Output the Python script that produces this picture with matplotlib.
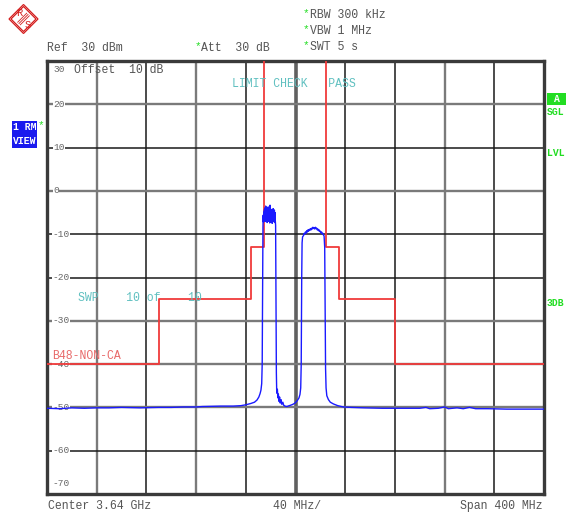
import matplotlib.pyplot as plt
from matplotlib.patches import Polygon, Rectangle

W, H = 574, 519

# spectrum trace, offset from center (MHz) / level (dBm)
freq_mhz = [
    -200, -190, -180, -170, -160, -150, -140, -125, -110, -100, -90, -80, -75,
    -60, -50, -44, -40, -36, -33, -31, -29.5, -28.5, -27.8, -27.2, -26.8,
    -26.6, -26.4, -26.2,
    -26.0, -25.75, -25.5, -25.25, -25.0, -24.75, -24.5, -24.25, -24.0, -23.75,
    -23.5, -23.25, -23.0, -22.75, -22.5, -22.25, -22.0, -21.75, -21.5, -21.25,
    -21.0, -20.75, -20.5, -20.25, -20.0, -19.75, -19.5, -19.25, -19.0, -18.75,
    -18.5, -18.25, -18.0, -17.75, -17.5, -17.25, -17.0, -16.75, -16.5, -16.25,
    -16.0, -15.8, -15.6, -15.4, -15.1, -14.6, -14.2, -13.8, -13.3, -12.8,
    -12.3, -11.7, -11.0, -10.2, -9.5, -8.5, -7, -5, -3, -1.5, 0, 1.5, 2.8,
    3.6, 4.2, 4.6, 4.8, 5.0, 5.3, 5.7, 6.5, 7.0, 7.5, 8.0, 8.5, 9.0, 9.5,
    10.0, 10.5, 11.0, 11.5, 12.0, 12.5, 13.0, 13.5, 14.0, 14.5, 15.0, 15.5,
    16.0, 16.5, 17.0, 17.5, 18.0, 18.5, 19.0, 19.5, 20.0, 20.5, 21.0, 21.5,
    22.0, 22.5, 23.0, 23.5, 23.7, 23.9, 24.2, 24.6, 25.2, 26.5, 28, 30.5, 34,
    38.5, 45, 55, 70, 85, 100, 105, 108, 115, 120, 123, 130, 135, 140, 145,
    155, 170, 185, 200,
]
level_dbm = [
    -50.2, -50.3, -50.1, -50.2, -50.1, -50.1, -50.0, -50.1, -50.0, -50.0,
    -49.9, -49.9, -49.8, -49.7, -49.7, -49.6, -49.4, -49.1, -48.8, -48.3,
    -47.6, -46.8, -46.0, -44.5, -40.0, -30.0, -18.0, -8.5,
    -5.6, -7.2, -4.9, -6.8, -4.3, -7.0, -3.9, -6.4, -3.5, -7.1,
    -3.8, -6.2, -4.0, -7.3, -4.1, -6.6, -3.7, -7.0, -4.4, -6.9,
    -4.0, -7.4, -3.3, -6.5, -4.2, -7.2, -4.8, -6.7, -4.3, -7.5,
    -4.5, -6.8, -4.1, -7.1, -4.7, -6.6, -4.4, -7.3, -5.0, -6.9,
    -8.0, -20.0, -33.0, -42.0, -46.7, -45.8, -47.8, -46.9, -48.6, -47.6,
    -49.0, -48.2, -49.3, -48.8, -49.5, -49.7, -49.8, -49.6, -49.4, -49.2,
    -48.9, -48.4, -47.8, -47.0, -45.5, -40.0, -30.0, -20.0, -12.0, -10.6,
    -10.3, -9.8, -10.0, -9.5, -9.8, -9.2, -9.5, -9.0, -9.3, -8.9, -9.1,
    -8.7, -9.0, -8.6, -8.8, -8.4, -8.7, -8.5, -8.8, -8.4, -8.7, -8.6, -9.0,
    -8.8, -9.2, -9.0, -9.4, -9.3, -9.7, -9.5, -9.9, -9.8, -10.2, -10.4,
    -13.0, -22.0, -33.0, -41.0, -45.5, -47.3, -48.2, -48.8, -49.2, -49.6,
    -49.9, -50.0, -50.1, -50.2, -50.2, -50.2, -50.0, -50.3, -50.2, -49.9,
    -50.3, -50.1, -50.3, -50.0, -50.3, -50.3, -50.4, -50.4, -50.4,
]

# limit line B48-NON-CA (step edges in MHz, level from each edge)
limit_mhz = [-200, -110, -35.5, -25, 24.5, 35, 80, 200]
limit_dbm = [-40, -25, -13, 60, -13, -25, -40, -40]

y_ticks = [30, 20, 10, 0, -10, -20, -30, -40, -50, -60, -70]

txt = "#555555"
green = "#22dd22"
teal = "#60c0c0"
mono = "Liberation Mono"

fig = plt.figure(figsize=(W / 100, H / 100), dpi=100)
fig.patch.set_facecolor("white")


def px(x, y):
    return x / W, 1 - y / H


def ftext(x, y, s, **kw):
    kw.setdefault("family", mono)
    kw.setdefault("fontsize", 8.3)
    kw.setdefault("color", txt)
    fig.text(*px(x, y), s, va="center", ha=kw.pop("ha", "left"), **kw)


left, right, top, bottom = 47, 544, 61, 494
ax = fig.add_axes([left / W, 1 - bottom / H, (right - left) / W, (bottom - top) / H])
ax.set_xlim(-200, 200)
ax.set_ylim(-70, 30)
ax.set_xticks([])
ax.set_yticks([])
for s in ax.spines.values():
    s.set_linewidth(2.4)
    s.set_color("#3a3a3a")

# graticule (screen grabs alternate dark / grey lines)
v_grey = [-160, -80, 120]
h_grey = [20, 0, -30, -40, -50]
for gx in range(-160, 200, 40):
    if gx == 0:
        ax.axvline(gx, color="#606060", lw=2.6, zorder=1)
    elif gx in v_grey:
        ax.axvline(gx, color="#7a7a7a", lw=1.7, zorder=1)
    else:
        ax.axvline(gx, color="#1a1a1a", lw=1.1, zorder=1)
for gy in range(-60, 30, 10):
    if gy in h_grey:
        ax.axhline(gy, color="#7a7a7a", lw=1.7, zorder=1)
    else:
        ax.axhline(gy, color="#1a1a1a", lw=1.1, zorder=1)

# y labels sit on the graticule with white background, under the traces
for v in y_ticks:
    if v == 30:
        yy = 70
    elif v == -70:
        yy = 484
    else:
        yy = top + (30 - v) / 100 * (bottom - top)
    xx = 53 if v >= 0 else 52
    ax.text(*px(xx, yy), str(v), transform=fig.transFigure, family=mono,
            fontsize=6.8, color="#666666", va="center", ha="left", zorder=2,
            bbox=dict(facecolor="white", edgecolor="none", pad=0.3))

ax.plot(limit_mhz, limit_dbm, drawstyle="steps-post", color="#f03a3a",
        lw=1.3, zorder=3)
ax.plot(freq_mhz, level_dbm, color="#1a1aff", lw=1.0, zorder=4)

# annotations inside the grid
ftext(74, 70, "Offset  10 dB")
ftext(232, 84, "LIMIT CHECK   PASS", color=teal)
ftext(78, 298, "SWP    10 of    10", color=teal)
ftext(52, 356, "B48-NON-CA", color="#e86a6a")

# header
ftext(47, 48, "Ref  30 dBm")
ftext(195, 46, "*", color=green, fontsize=8)
ftext(201, 48, "Att  30 dB")
for yy, s in [(15, "RBW 300 kHz"), (31, "VBW 1 MHz"), (47, "SWT 5 s")]:
    ftext(303, yy - 2, "*", color=green, fontsize=8)
    ftext(310, yy, s)

# footer
ftext(48, 506, "Center 3.64 GHz")
ftext(273, 506, "40 MHz/")
ftext(542, 506, "Span 400 MHz", ha="right")

# right side status
fig.patches.append(Rectangle(px(547, 105), 19 / W, 12 / H, transform=fig.transFigure,
                             facecolor=green, edgecolor="none"))
ftext(556.5, 99, "A", color="white", fontsize=7, weight="bold", ha="center")
ftext(547, 112, "SGL", color=green, fontsize=7, weight="bold")
ftext(547, 153, "LVL", color=green, fontsize=7, weight="bold")
ftext(547, 303, "3DB", color=green, fontsize=7, weight="bold")

# left trace box
fig.patches.append(Rectangle(px(12, 148), 25 / W, 27 / H, transform=fig.transFigure,
                             facecolor="#1a1aee", edgecolor="none"))
ftext(13, 127, "1 RM", color="white", fontsize=7, weight="bold")
ftext(13, 141, "VIEW", color="white", fontsize=7, weight="bold")
ftext(38, 125, "*", color=green, fontsize=8)

# R&S logo
red = "#d42020"
cx, cy = 23.5, 19
for d in (14.5, 12.5):
    fig.patches.append(Polygon([px(cx, cy - d), px(cx + d, cy), px(cx, cy + d),
                                px(cx - d, cy)], closed=True, fill=False,
                               edgecolor=red, lw=0.9, transform=fig.transFigure))
for k in (-1, 0, 1):
    o = k * 1.3
    x0, y0 = px(cx - 4.5 + o, cy + 4.5 + o)
    x1, y1 = px(cx + 4.5 + o, cy - 4.5 + o)
    fig.lines.append(plt.Line2D([x0, x1], [y0, y1], color=red, lw=0.6,
                                transform=fig.transFigure))
ftext(19, 13.5, "R", color=red, fontsize=7.5, ha="center")
ftext(28, 25, "S", color=red, fontsize=7.5, ha="center")

fig.savefig("out.png", dpi=100)
